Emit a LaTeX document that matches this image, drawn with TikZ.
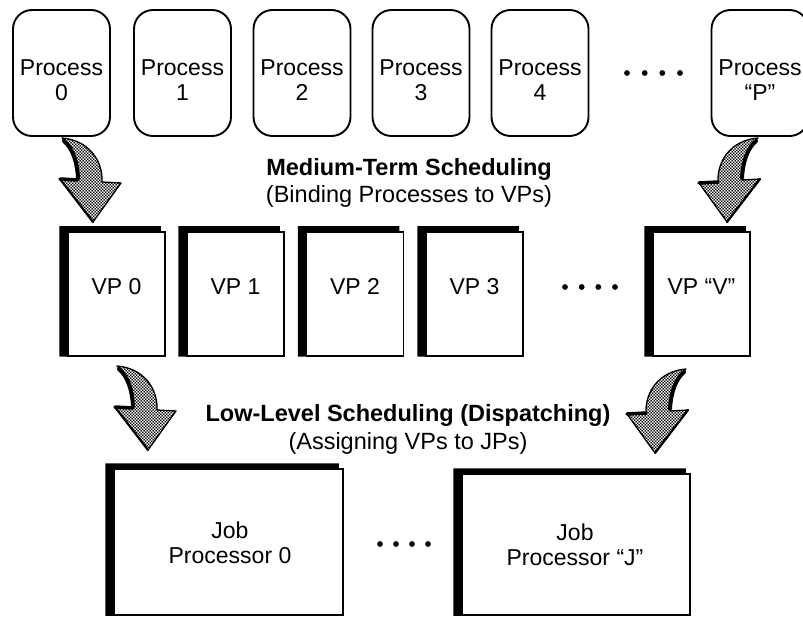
\documentclass[tikz,border=0pt]{standalone}
\usepackage{fontspec}
\setmainfont{Liberation Sans}
\usetikzlibrary{calc,patterns}

% fine stipple used inside the curled block arrows
\pgfdeclarepatternformonly{stipple}{\pgfqpoint{0pt}{0pt}}{\pgfqpoint{3.4pt}{3.4pt}}{\pgfqpoint{3.4pt}{3.4pt}}{%
  \pgfpathcircle{\pgfqpoint{0.85pt}{0.85pt}}{1.15pt}%
  \pgfpathcircle{\pgfqpoint{2.55pt}{2.55pt}}{1.15pt}%
  \pgfusepath{fill}}

\tikzset{
  proc/.style={draw, line width=1.9pt, rounded corners=19pt,
    minimum width=97pt, minimum height=126pt, inner sep=0pt},
  slab/.style={draw, line width=1.5pt, fill=white, inner sep=0pt},
  lbl/.style={font=\fontsize{23}{25}\selectfont, align=center, inner sep=0pt},
  jlbl/.style={font=\fontsize{23}{24.5}\selectfont, align=center, inner sep=0pt},
  ttl/.style={font=\fontsize{23.5}{27}\selectfont, inner sep=0pt, anchor=base},
  bigdot/.style={circle, fill, inner sep=0pt, minimum size=5.8pt},
  curlbody/.style={pattern=stipple, draw, line width=1.3pt, line join=round},
  curlband/.style={line width=4pt, line cap=round},
  % curled block arrow, tip at the origin; the two arguments give the
  % darkened segment of the head's upper edge
  pics/curl/.style 2 args={code={
    \path[curlbody] (-33,-43) -- (0,0) -- (28,-39) -- (9,-40)
      .. controls (10,-62) and (-5,-82) .. (-31,-84)
      .. controls (-22,-76) and (-16,-62) .. (-15,-42) -- cycle;
    \draw[curlband] (-29,-81) .. controls (-21,-74) and (-16,-62) .. (-15,-44);
    \draw[line width=3.5pt, line cap=round] (#1) -- (#2);
    \draw[line width=2.2pt, line cap=round] (-33,-43) -- (0,0);
  }}
}

\begin{document}
\begin{tikzpicture}[x=1pt, y=-1pt]
\useasboundingbox (0,0) rectangle (803,617);
\clip (0,0) rectangle (803,617);

% processes
\foreach \cx/\nm/\tx in {61.5/p0/0, 182.5/p1/1, 302/p2/2, 421/p3/3, 540/p4/4, 760/pp/{“P”}}{
  \node[proc] (\nm) at (\cx,73) {};
  \node[lbl] (\nm t) at (\cx,80) {Process\\\tx};
}
\foreach \x [count=\k] in {627,644.7,662.3,680}
  \node[bigdot] (pd\k) at (\x,73) {};

% virtual processors
\foreach \cx/\nm/\tx in {116.5/v0/0, 235.5/v1/1, 355/v2/2, 474.5/v3/3, 701.5/vv/{“V”}}{
  \node[slab, minimum width=97pt, minimum height=124pt] (\nm) at (\cx,294) {};
}
% job processors
\node[slab, minimum width=229pt, minimum height=146pt] (j0) at (228.5,542) {};
\node[slab, minimum width=228pt, minimum height=141pt] (jj) at (576,544.5) {};

% heavy edges on the left and top of each slab
\foreach \n in {v0,v1,v2,v3,vv,j0,jj}
  \fill ($(\n.north west)+(-8,-5)$) -- ($(\n.north east)+(-5,-5)$)
     -- ($(\n.north east)+(-5,0)$) -- (\n.north west) -- (\n.south west)
     -- ($(\n.south west)+(-8,0)$) -- cycle;

\foreach \cx/\nm/\tx in {116.5/v0/0, 235.5/v1/1, 355/v2/2, 474.5/v3/3, 701.5/vv/{“V”}}{
  \node[lbl, anchor=base] (\nm t) at (\cx,295) {VP \tx};
}
\foreach \x [count=\k] in {565,581.7,598.3,615}
  \node[bigdot] (vd\k) at (\x,287) {};

\node[jlbl] (j0t) at (230,543) {Job\\Processor 0};
\node[jlbl] (jjt) at (575,545) {Job\\Processor “J”};
\foreach \x [count=\k] in {380,396,412,428}
  \node[bigdot] (jd\k) at (\x,544) {};

% scheduling captions
\node[ttl] (mt)  at (409,176) {\bfseries Medium-Term Scheduling};
\node[ttl] (mtb) at (409,203) {(Binding Processes to VPs)};
\node[ttl] (ll)  at (408,421) {\bfseries Low-Level Scheduling (Dispatching)};
\node[ttl] (llb) at (408,449) {(Assigning VPs to JPs)};

% curled arrows
\coordinate (a1) at (93,222);
\coordinate (a2) at (727,222);
\coordinate (a3) at (148,450);
\coordinate (a4) at (655,453);
\pic at (a1) {curl={-33,-43}{-15,-42}};
\pic at (a3) {curl={-33,-43}{-15,-42}};
\pic[xscale=-1] at (a2) {curl={28,-39}{9,-40}};
\pic[xscale=-1] at (a4) {curl={28,-39}{9,-40}};
\end{tikzpicture}
\end{document}
